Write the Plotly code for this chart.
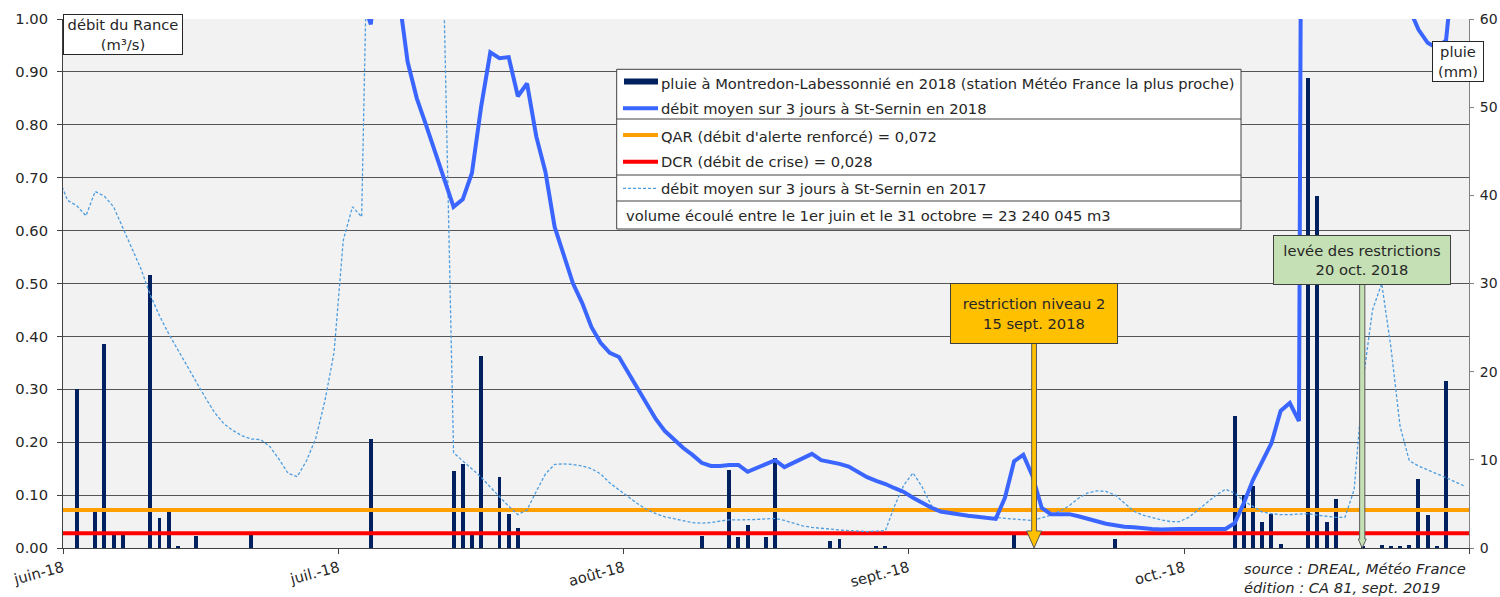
import plotly.graph_objects as go
import pandas as pd

# ------------------------------------------------------------------ data
months_tick = ["2018-06-01", "2018-07-01", "2018-08-01", "2018-09-01", "2018-10-01", "2018-11-01"]
months_label = ["juin-18", "juil.-18", "août-18", "sept.-18", "oct.-18", ""]

dates = pd.date_range("2018-06-01", "2018-10-31", freq="D").strftime("%Y-%m-%d").tolist()
dates_2017 = ["2018-05-31"] + dates

# débit moyen sur 3 jours à St-Sernin en 2018 (m3/s)
flow_2018 = [
    2.6, 2.4, 2.3, 2.5, 2.8, 2.6, 2.4, 2.2, 2.0, 2.6,
    3.0, 2.7, 2.4, 2.1, 1.9, 1.8, 1.7, 1.6, 1.5, 1.45,
    1.4, 1.38, 1.35, 1.3, 1.25, 1.2, 1.17, 1.14, 1.12, 1.1,
    1.08, 1.06, 1.04, 0.99, 1.2, 1.15, 1.05, 0.919, 0.850, 0.800,
    0.747, 0.692, 0.645, 0.659, 0.709, 0.834, 0.937, 0.926, 0.928, 0.854,
    0.878, 0.778, 0.711, 0.607, 0.554, 0.500, 0.463, 0.418, 0.388, 0.369,
    0.361,
    0.331, 0.304, 0.272, 0.244, 0.221, 0.204, 0.189, 0.176, 0.161, 0.155,
    0.155, 0.157, 0.157, 0.144, 0.151, 0.157, 0.166, 0.153, 0.161, 0.170,
    0.178, 0.166, 0.163, 0.159, 0.154, 0.144, 0.134, 0.127, 0.121, 0.113,
    0.106,
    0.095, 0.085, 0.076, 0.069, 0.066, 0.064, 0.061, 0.059, 0.057, 0.055,
    0.095, 0.164, 0.176, 0.136, 0.076, 0.064, 0.064, 0.064, 0.060, 0.055,
    0.050, 0.046, 0.043, 0.040, 0.039, 0.037, 0.036, 0.035, 0.036, 0.036,
    0.036, 0.036, 0.036, 0.036, 0.036, 0.047, 0.085, 0.129, 0.163, 0.198,
    0.259, 0.274, 0.240, 4.5, 3.2, 2.5, 2.1, 1.8, 1.6, 1.45,
    1.3, 1.2, 1.12, 1.06, 1.02, 0.98, 0.955, 0.945, 0.96, 1.1,
    1.3,
]

# débit moyen sur 3 jours à St-Sernin en 2017 (m3/s)
flow_2017 = [
    0.70,
    0.657, 0.647, 0.628, 0.674, 0.665, 0.645, 0.605, 0.568, 0.527, 0.478,
    0.439, 0.405, 0.374, 0.344, 0.314, 0.284, 0.256, 0.235, 0.222, 0.212,
    0.206, 0.205, 0.192, 0.168, 0.141, 0.135, 0.165, 0.207, 0.278, 0.370,
    0.582, 0.645, 0.626, 1.5, 2.5, 3.5, 3.0, 2.5, 2.0, 1.6,
    1.3, 1.0, 0.18, 0.165, 0.15, 0.134, 0.115, 0.096, 0.079, 0.063,
    0.072, 0.107, 0.14, 0.158, 0.159, 0.158, 0.155, 0.15, 0.14, 0.123,
    0.11,
    0.096, 0.084, 0.073, 0.065, 0.059, 0.055, 0.051, 0.048, 0.047, 0.048,
    0.051, 0.053, 0.053, 0.053, 0.054, 0.055, 0.056, 0.052, 0.047, 0.042,
    0.039, 0.037, 0.035, 0.034, 0.033, 0.032, 0.031, 0.032, 0.033, 0.08,
    0.119,
    0.142, 0.115, 0.08, 0.071, 0.066, 0.062, 0.059, 0.058, 0.058, 0.058,
    0.056, 0.055, 0.053, 0.052, 0.057, 0.062, 0.07, 0.08, 0.094, 0.104,
    0.108, 0.107, 0.10, 0.085, 0.07, 0.062, 0.057, 0.053, 0.05, 0.05,
    0.058, 0.072, 0.087, 0.1, 0.111, 0.104, 0.089, 0.078, 0.068, 0.065,
    0.063, 0.063, 0.064, 0.065, 0.062, 0.060, 0.058, 0.058, 0.11, 0.32,
    0.45, 0.50, 0.38, 0.23, 0.165, 0.155, 0.148, 0.14, 0.133, 0.125,
    0.117,
]

# pluie à Montredon-Labessonnié en 2018 (mm)
rain_dates = [
    "2018-06-02", "2018-06-04", "2018-06-05", "2018-06-06", "2018-06-07", "2018-06-10",
    "2018-06-11", "2018-06-12", "2018-06-13", "2018-06-15", "2018-06-21", "2018-07-04",
    "2018-07-13", "2018-07-14", "2018-07-15", "2018-07-16", "2018-07-18", "2018-07-19",
    "2018-07-20", "2018-08-09", "2018-08-12", "2018-08-13", "2018-08-14", "2018-08-16",
    "2018-08-17", "2018-08-23", "2018-08-24", "2018-08-28", "2018-08-29", "2018-09-12",
    "2018-09-23", "2018-10-06", "2018-10-07", "2018-10-08", "2018-10-09", "2018-10-10",
    "2018-10-11", "2018-10-14", "2018-10-15", "2018-10-16", "2018-10-17", "2018-10-20",
    "2018-10-22", "2018-10-23", "2018-10-24", "2018-10-25", "2018-10-26", "2018-10-27",
    "2018-10-28", "2018-10-29",
]
rain_mm = [
    18.0, 4.1, 23.1, 1.5, 1.5, 31.0,
    3.4, 4.1, 0.2, 1.4, 1.5, 12.4,
    8.7, 9.5, 1.5, 21.8, 8.0, 3.9,
    2.3, 1.4, 8.8, 1.2, 2.6, 1.2,
    10.2, 0.8, 1.0, 0.2, 0.2, 1.5,
    1.0, 15.0, 6.0, 7.0, 2.9, 3.9,
    0.5, 53.3, 39.9, 2.9, 5.6, 0.2,
    0.3, 0.2, 0.2, 0.3, 7.8, 3.7,
    0.2, 18.9,
]

QAR = 0.072
DCR = 0.028
restriction_date = "2018-09-15"
levee_date = "2018-10-20"

legend_labels = [
    "pluie à Montredon-Labessonnié en 2018 (station Météo France la plus proche)",
    "débit moyen sur 3 jours à St-Sernin en 2018",
    "QAR (débit d'alerte renforcé) = 0,072",
    "DCR (débit de crise) = 0,028",
    "débit moyen sur 3 jours à St-Sernin en 2017",
    "volume écoulé entre le 1er juin et le 31 octobre = 23 240 045 m3",
]

assert len(flow_2018) == len(dates)
assert len(flow_2017) == len(dates_2017)
assert len(rain_dates) == len(rain_mm)

# ------------------------------------------------------------------ style
W, H = 1500, 597
L, R, T, B = 63, 31, 19, 49
PW, PH = W - L - R, H - T - B
FONT = "DejaVu Sans"
FS = 14.7
TXT = "#262626"
NAVY = "#002060"
BLUE = "#3A66FF"
ORANGE = "#FFA000"
RED = "#FF0000"
LBLUE = "#4D9DE0"
GRID = "#555555"
DAY = 86400000


def fx(px):
    return (px - L) / PW


def fy(py):
    return (H - B - py) / PH


fig = go.Figure()

fig.add_trace(go.Bar(
    x=rain_dates, y=rain_mm, yaxis="y", xperiod=DAY, xperiodalignment="middle",
    width=0.43 * DAY, marker=dict(color=NAVY, line=dict(width=0)), name=legend_labels[0],
))
xr = [months_tick[0], months_tick[-1]]
fig.add_trace(go.Scatter(x=xr, y=[QAR, QAR], yaxis="y2", mode="lines",
                         line=dict(color=ORANGE, width=4), name=legend_labels[2]))
fig.add_trace(go.Scatter(x=xr, y=[DCR, DCR], yaxis="y2", mode="lines",
                         line=dict(color=RED, width=4), name=legend_labels[3]))
fig.add_trace(go.Scatter(x=dates_2017, y=flow_2017, yaxis="y2", mode="lines",
                         xperiod=DAY, xperiodalignment="middle",
                         line=dict(color=LBLUE, width=1.3, dash="3px,2px"), name=legend_labels[4]))
fig.add_trace(go.Scatter(x=dates, y=flow_2018, yaxis="y2", mode="lines",
                         xperiod=DAY, xperiodalignment="middle",
                         line=dict(color=BLUE, width=4), name=legend_labels[1]))

shapes = []
annotations = []

# ---- legend box
lx0, lx1, ly0, ly1 = 616.7, 1241, 229, 69.3
shapes.append(dict(type="rect", xref="paper", yref="paper", x0=fx(lx0), x1=fx(lx1),
                   y0=fy(ly0), y1=fy(ly1), fillcolor="white", line=dict(color="#404040", width=1)))
for sy in (119, 175, 201):
    shapes.append(dict(type="line", xref="paper", yref="paper", x0=fx(lx0), x1=fx(lx1),
                       y0=fy(sy), y1=fy(sy), line=dict(color="#404040", width=1)))
shapes.append(dict(type="rect", xref="paper", yref="paper", x0=fx(624), x1=fx(658),
                   y0=fy(84.5), y1=fy(78.5), fillcolor=NAVY, line=dict(width=0)))
for yy, col, wd, dash in ((108.3, BLUE, 4, "solid"), (135, ORANGE, 4, "solid"),
                          (161.7, RED, 4, "solid"), (188.3, LBLUE, 1.3, "3px,2px")):
    shapes.append(dict(type="line", xref="paper", yref="paper", x0=fx(623), x1=fx(658),
                       y0=fy(yy), y1=fy(yy), line=dict(color=col, width=wd, dash=dash)))
rows = [83, 108.3, 136, 161.7, 188.3, 215]
for i, (lab, yy) in enumerate(zip(legend_labels, rows)):
    annotations.append(dict(text=lab, xref="paper", yref="paper",
                            x=fx(624 if i == 5 else 659), y=fy(yy), xanchor="left", yanchor="middle",
                            showarrow=False, font=dict(family=FONT, size=FS, color=TXT)))

# ---- axis title boxes
annotations.append(dict(text="débit du Rance<br>(m³/s)", xref="paper", yref="paper",
                        x=fx(63.3), y=fy(14.3), xanchor="left", yanchor="top", showarrow=False,
                        width=112, height=33, borderpad=3, bgcolor="white",
                        bordercolor="#262626", borderwidth=1, align="center",
                        font=dict(family=FONT, size=FS, color=TXT)))
annotations.append(dict(text="pluie<br>(mm)", xref="paper", yref="paper",
                        x=fx(1458.3), y=fy(61.4), xanchor="center", yanchor="middle",
                        showarrow=False, width=44, height=33, borderpad=3, bgcolor="white",
                        bordercolor="#262626", borderwidth=1, align="center",
                        font=dict(family=FONT, size=FS, color=TXT)))

# ---- restriction annotations with block arrows
def block_arrow(date, dx, ytop, hw, head_hw, head_h, fill):
    ytop_p = fy(ytop)
    yhb = fy(548 - head_h)
    path = (f"M{dx-hw},{ytop_p} L{dx+hw},{ytop_p} L{dx+hw},{yhb} L{dx+head_hw},{yhb} "
            f"L{dx},0 L{dx-head_hw},{yhb} L{dx-hw},{yhb} Z")
    return dict(type="path", xref="x", yref="paper", xsizemode="pixel", xanchor=date,
                path=path, fillcolor=fill, line=dict(color="#595959", width=1), layer="above")

shapes.append(block_arrow(restriction_date, -3, 342.7, 2.4, 7.5, 17, "#FFC000"))
shapes.append(block_arrow(levee_date, 3.5, 284, 2.6, 4, 9, "#C5E0B4"))

annotations.append(dict(text="restriction niveau 2<br>15 sept. 2018", xref="x", yref="paper",
                        x=restriction_date, xshift=-3, y=fy(313), xanchor="center", yanchor="middle",
                        showarrow=False, width=160, height=53, borderpad=3, bgcolor="#FFC000",
                        bordercolor="#404040", borderwidth=1, align="center",
                        font=dict(family=FONT, size=FS, color=TXT)))
annotations.append(dict(text="levée des restrictions<br>20 oct. 2018", xref="x", yref="paper",
                        x=levee_date, xshift=3.5, y=fy(260), xanchor="center", yanchor="middle",
                        showarrow=False, width=170, height=42, borderpad=3, bgcolor="#C5E0B4",
                        bordercolor="#404040", borderwidth=1, align="center",
                        font=dict(family=FONT, size=FS, color=TXT)))

# ---- source
annotations.append(dict(text="<i>source : DREAL, Météo France<br>édition : CA 81, sept. 2019</i>",
                        xref="paper", yref="paper", x=fx(1242), y=fy(558), xanchor="left",
                        yanchor="top", align="left", showarrow=False,
                        font=dict(family=FONT, size=FS, color=TXT)))

fig.update_layout(
    width=W, height=H, margin=dict(l=L, r=R, t=T, b=B, pad=0, autoexpand=False),
    paper_bgcolor="white", plot_bgcolor="#F2F2F2",
    showlegend=False, bargap=0,
    font=dict(family=FONT, size=FS, color=TXT),
    xaxis=dict(type="date", range=xr, tickvals=months_tick, ticktext=months_label,
               tickangle=-15, ticks="outside", ticklen=5, tickcolor="#404040",
               showgrid=False, showline=True, linecolor="#404040", linewidth=1,
               tickfont=dict(family=FONT, size=FS, color=TXT), zeroline=False,
               automargin=False),
    yaxis=dict(range=[0, 60], dtick=10, side="right", showgrid=False, zeroline=False,
               showline=True, linecolor="#808080", linewidth=1, ticks="outside", ticklen=4,
               tickcolor="#808080", ticklabelstandoff=3, automargin=False,
               tickfont=dict(family=FONT, size=14, color=TXT)),
    yaxis2=dict(range=[0, 1], dtick=0.1, tickformat=".2f", side="left", overlaying="y",
                showgrid=True, gridcolor=GRID, gridwidth=1, zeroline=False,
                showline=True, linecolor="#404040", linewidth=1, ticks="outside", ticklen=5,
                tickcolor="#404040", ticklabelstandoff=6, automargin=False,
                tickfont=dict(family=FONT, size=FS, color=TXT)),
    shapes=shapes, annotations=annotations,
)

fig.write_html("out.html", config={"displayModeBar": False},
               post_script="document.body.style.margin='0px';")
